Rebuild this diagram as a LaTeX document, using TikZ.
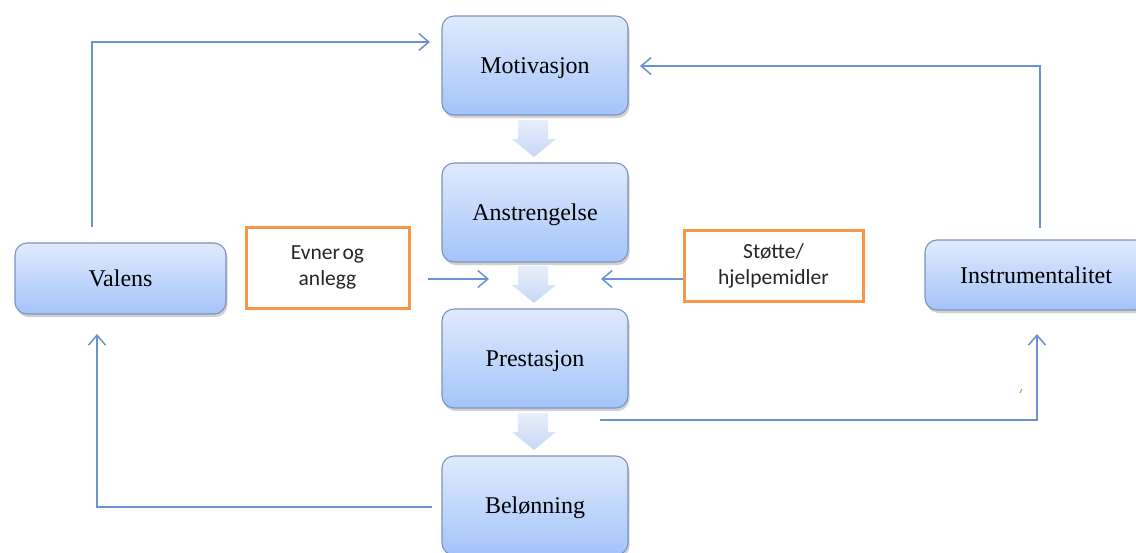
\documentclass[tikz,border=0pt]{standalone}
\usepackage{fontspec}
\setmainfont{Liberation Serif}
\newfontfamily\calib{Carlito}
\usetikzlibrary{arrows.meta,shadows}
\definecolor{linec}{RGB}{104,146,210}
\definecolor{boxtop}{RGB}{224,234,252}
\definecolor{boxbot}{RGB}{163,196,250}
\definecolor{boxedge}{RGB}{125,148,188}
\definecolor{arrtop}{RGB}{232,239,252}
\definecolor{arrbot}{RGB}{198,215,244}
\definecolor{orangec}{RGB}{247,150,70}
\tikzset{
  bluebox/.style={rounded corners=12pt, draw=boxedge, line width=1.1pt,
    top color=boxtop, bottom color=boxbot,
    drop shadow={shadow xshift=1.5pt, shadow yshift=-3pt, opacity=0.3, fill=black!60},
    font=\fontsize{24}{29}\selectfont, text=black, inner sep=0pt,
    text height=16pt, text depth=0pt},
  orbox/.style={draw=orangec, line width=3pt, fill=white, align=center,
    font=\calib\fontsize{21.5}{26}\selectfont, text=black!85, inner sep=0pt},
  conn/.style={draw=linec, line width=1.5pt,
    -{Straight Barb[length=10pt,width=17pt,line width=1.5pt]}},
  blockarrow/.style={top color=arrtop, bottom color=arrbot, draw=none}
}
\begin{document}
\begin{tikzpicture}[x=1pt,y=-1pt]
\useasboundingbox (0,0) rectangle (1136,552);
% main column
\node[bluebox, minimum width=186pt, minimum height=99pt] (mot) at (535,65.5) {Motivasjon};
\node[bluebox, minimum width=186pt, minimum height=99pt] (ans) at (535,212.5) {Anstrengelse};
\node[bluebox, minimum width=186pt, minimum height=99pt] (pre) at (535,358.5) {Prestasjon};
\node[bluebox, minimum width=186pt, minimum height=99pt] (bel) at (535,505.5) {Belønning};
% side boxes
\node[bluebox, minimum width=211pt, minimum height=71pt] (val) at (120.5,278.5) {Valens};
\node[bluebox, minimum width=222pt, minimum height=70pt] (ins) at (1036,275) {Instrumentalitet};
\node[orbox, minimum width=163pt, minimum height=81pt] (evn) at (327.5,267.5) {Evner\hspace{0.12em}og\\anlegg};
\node[orbox, minimum width=179pt, minimum height=71pt] (sto) at (773.5,265.5) {Støtte/\\hjelpemidler};
% block arrows
\foreach \y in {120,266,413}{
  \shade[blockarrow] (518,\y) -- (548,\y) -- (548,{\y+19}) -- (556,{\y+19})
    -- (534,{\y+37}) -- (512,{\y+19}) -- (518,{\y+19}) -- cycle;
}
% connector ends
\coordinate (v1) at (92,227);
\coordinate (m1) at (430,42);
\coordinate (i1) at (1040,228);
\coordinate (m2) at (640,66);
\coordinate (p1) at (600,420);
\coordinate (i2) at (1037,334);
\coordinate (b1) at (432,507);
\coordinate (v2) at (97,334);
\coordinate (e1) at (428,279);
\coordinate (e2) at (489,279);
\coordinate (s1) at (683,279);
\coordinate (s2) at (601,279);
\draw[conn] (v1) |- (m1);
\draw[conn] (i1) |- (m2);
\draw[conn] (p1) -| (i2);
\draw[conn] (b1) -| (v2);
\draw[conn] (e1) -- (e2);
\draw[conn] (s1) -- (s2);
% stray mark
\draw[draw=orangec!70!gray, line width=1pt] (1020,393) -- (1022,389);
\end{tikzpicture}
\end{document}
